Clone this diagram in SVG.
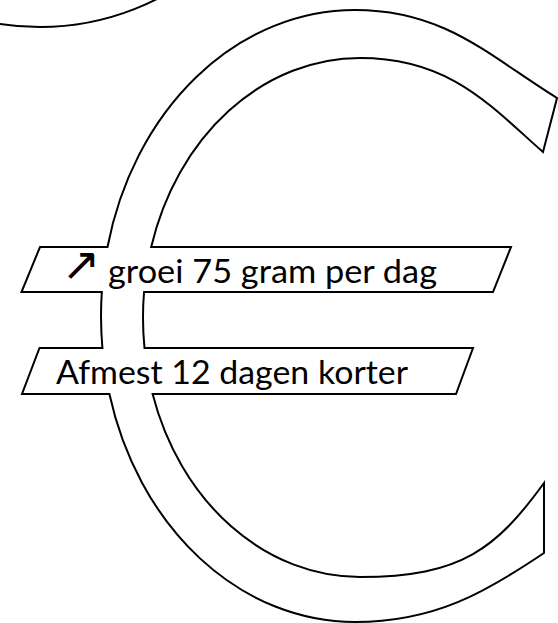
<svg xmlns="http://www.w3.org/2000/svg" width="558" height="623" viewBox="0 0 558 623">
<style>
.ol{fill:#fff;stroke:#000;stroke-width:2;stroke-linejoin:miter}
.t{font-family:Lato,"Open Sans","DejaVu Sans",sans-serif;font-size:33px;fill:#000}
.ar{font-family:"DejaVu Sans",sans-serif;font-size:46px;fill:#000}
</style>
<rect width="558" height="623" fill="#fff"/>
<g id="circle">
<circle cx="40" cy="-231" r="258" fill="none" stroke="#000" stroke-width="2"/>
</g>
<g id="euro">
<path class="ol" d="M 557 98 C 489 56 445 10 355 10 A 254 306 0 0 0 107.5 247 H 40 L 21.5 292 H 101.8 A 254 306 0 0 0 102.4 348 H 39.5 L 22 394 H 109.4 A 254 306 0 0 0 355 622 C 435 622 486 592 544 553 V 483 C 496.8 547.8 462 577 360 577 A 217 259.5 0 0 1 152.6 394 H 456 L 473 348 H 144.5 A 217 259.5 0 0 1 144.05 292 H 493 L 511 247 H 151.2 A 217 259.5 0 0 1 360 58 C 450 58 490.4 105.8 543 152 Z"/>
</g>
<g id="label1">
<text class="ar" x="62" y="280">↗</text>
<text class="t" x="108" y="283" textLength="329" lengthAdjust="spacingAndGlyphs">groei 75 gram per dag</text>
</g>
<g id="label2">
<text class="t" x="56" y="384" textLength="352" lengthAdjust="spacingAndGlyphs">Afmest 12 dagen korter</text>
</g>
</svg>
